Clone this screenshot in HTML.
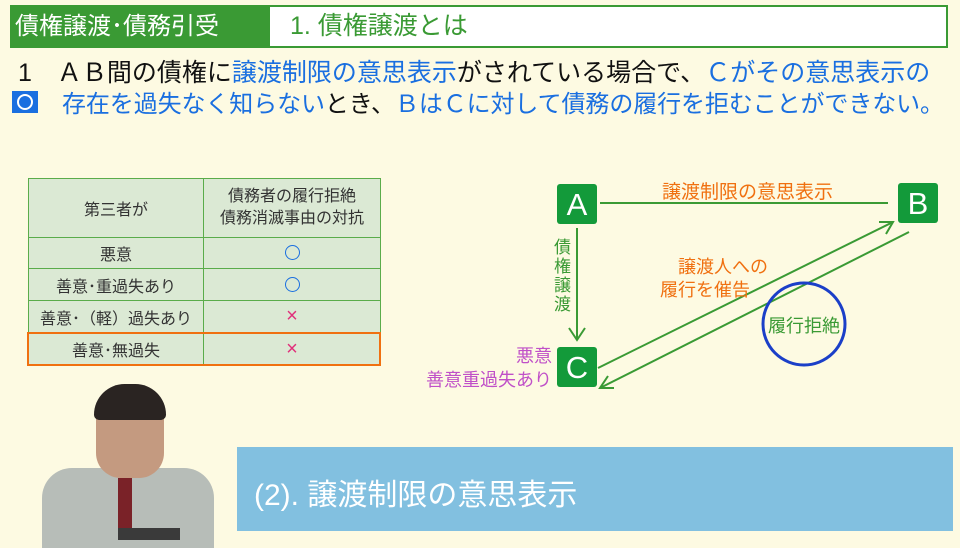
<!DOCTYPE html>
<html><head><meta charset="utf-8"><style>
body{margin:0;width:960px;height:540px;overflow:hidden;background:#fdfae2;font-family:"Liberation Sans","Noto Sans CJK JP",sans-serif;position:relative}
.a{position:absolute;white-space:nowrap}
table{border-collapse:collapse;position:absolute;left:28px;top:178px;background:#dbe9d4;font-size:16px;color:#333}
td{border:1.5px solid #5aac4a;text-align:center;padding:0}
.c{display:inline-block;width:13px;height:13px;border:1.5px solid #1a6fe0;border-radius:50%;vertical-align:middle}
.x{color:#e0307a;font-size:20px}
</style></head><body>
<div class="a" style="left:10px;top:5px;width:938px;height:43px;border:2px solid #3a9a34;box-sizing:border-box;background:#fff"></div>
<div class="a" style="left:10px;top:5px;width:260px;height:43px;background:#3a9a34;color:#fff;font-size:24px;line-height:43px;padding-left:5px;box-sizing:border-box">債権譲渡･債務引受</div>
<div class="a" style="left:290px;top:5px;line-height:43px;font-size:25px;color:#3a9a34">1. 債権譲渡とは</div>
<div class="a" style="left:18px;top:57px;font-size:25px;line-height:32px;color:#111">1　ＡＢ間の債権に<span style="color:#1a6fe0">譲渡制限の意思表示</span>がされている場合で、<span style="color:#1a6fe0">Ｃがその意思表示の</span></div>
<div class="a" style="left:62px;top:89px;font-size:24px;line-height:32px;color:#111;letter-spacing:-0.1px"><span style="color:#1a6fe0">存在を過失なく知らない</span>とき、<span style="color:#1a6fe0">ＢはＣに対して債務の履行を拒むことができない。</span></div>
<div class="a" style="left:12px;top:91px;width:26px;height:22px;background:#1a6fe0"></div>
<div class="a" style="left:17px;top:94px;width:12px;height:12px;border:2.5px solid #fff;border-radius:50%"></div>
<table>
<tr style="height:59px"><td style="width:174px">第三者が</td><td style="width:176px;line-height:22px">債務者の履行拒絶<br>債務消滅事由の対抗</td></tr>
<tr style="height:31px"><td>悪意</td><td><span class="c"></span></td></tr>
<tr style="height:32px"><td>善意･重過失あり</td><td><span class="c"></span></td></tr>
<tr style="height:32px"><td>善意･（軽）過失あり</td><td class="x">×</td></tr>
<tr style="height:33px"><td>善意･無過失</td><td class="x">×</td></tr>
</table>
<div class="a" style="left:27px;top:332px;width:354px;height:34px;border:2.5px solid #f07010;box-sizing:border-box"></div>
<svg class="a" style="left:0;top:0" width="960" height="540">
<g stroke="#3a9a34" stroke-width="2" fill="none">
<line x1="600" y1="203" x2="888" y2="203"/>
<line x1="577" y1="228" x2="577" y2="340"/><polyline points="569,328 577,340 585,328"/>
<line x1="598" y1="368" x2="893" y2="222"/><polyline points="879,222 893,222 886,234"/>
<line x1="909" y1="232" x2="600" y2="388"/><polyline points="608,376 600,388 614,388"/>
</g>
<circle cx="804" cy="324" r="41" stroke="#1b3fc8" stroke-width="3" fill="none"/>
<rect x="557" y="184" width="40" height="40" rx="3" fill="#139a3a"/>
<rect x="898" y="183" width="40" height="40" rx="3" fill="#139a3a"/>
<rect x="557" y="347" width="40" height="40" rx="3" fill="#139a3a"/>
<g fill="#fff" font-size="31" text-anchor="middle" font-family="Liberation Sans,sans-serif"><text x="577" y="215">A</text><text x="918" y="214">B</text><text x="577" y="378">C</text></g>
</svg>
<div class="a" style="left:662px;top:177px;font-size:19px;color:#f07010">譲渡制限の意思表示</div>
<div class="a" style="left:554px;top:238px;width:20px;font-size:17px;line-height:19px;color:#3a9a34;white-space:normal">債権譲渡</div>
<div class="a" style="left:642px;top:256px;font-size:18px;line-height:23px;color:#f07010">　　譲渡人への<br>　履行を催告</div>
<div class="a" style="left:768px;top:312px;font-size:18px;color:#3a9a34">履行拒絶</div>
<div class="a" style="left:418px;top:344px;width:134px;text-align:right;font-size:18px;line-height:24px;color:#c050c8">悪意<br>善意重過失あり</div>
<div class="a" style="left:237px;top:447px;width:716px;height:84px;background:#82c0e0"></div>
<div class="a" style="left:254px;top:470px;font-size:30px;color:#fff">(2). 譲渡制限の意思表示</div>
<div class="a" style="left:42px;top:468px;width:172px;height:80px;background:#b7bdb8;border-radius:30px 30px 0 0"></div>
<div class="a" style="left:96px;top:388px;width:68px;height:90px;background:#c49a80;border-radius:30px 30px 25px 25px"></div>
<div class="a" style="left:94px;top:384px;width:72px;height:36px;background:#2a2422;border-radius:34px 34px 6px 6px"></div>
<div class="a" style="left:118px;top:478px;width:14px;height:62px;background:#7a2228"></div>
<div class="a" style="left:118px;top:528px;width:62px;height:12px;background:#3a3a3a"></div>
</body></html>
